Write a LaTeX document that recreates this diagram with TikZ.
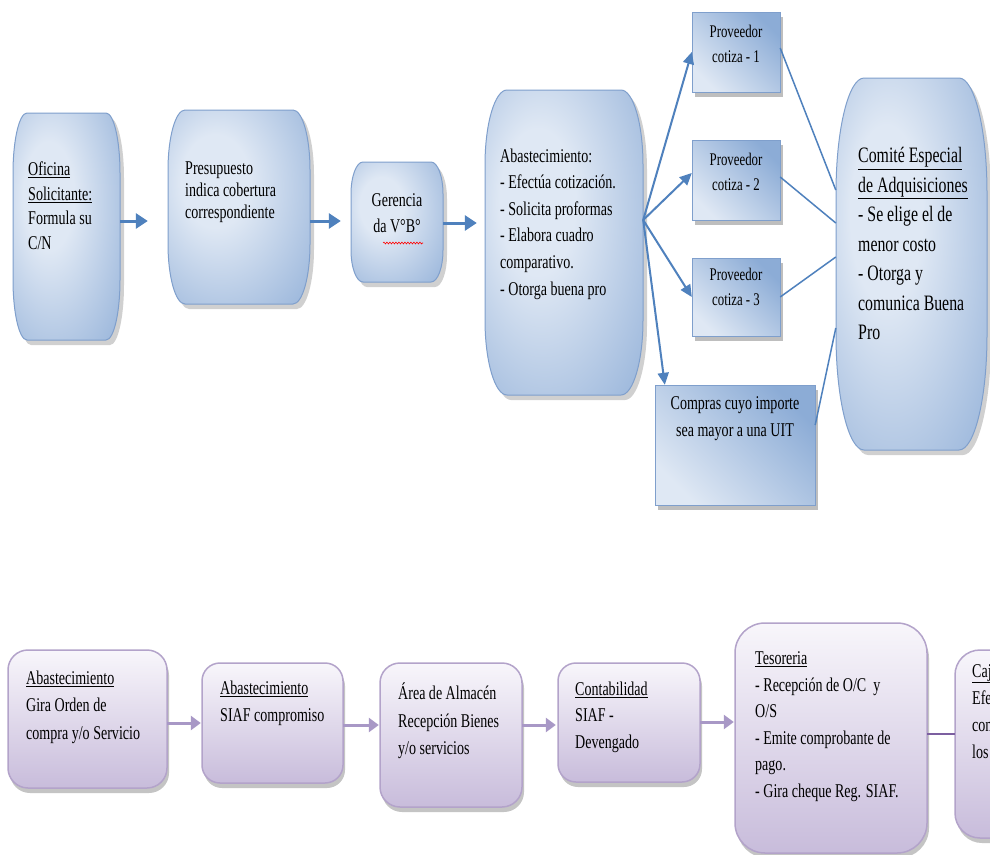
\documentclass[tikz,border=0pt]{standalone}
\usepackage{fontspec}
\setmainfont{Liberation Serif}[FakeStretch=0.72]
\usetikzlibrary{arrows.meta,calc,decorations.pathmorphing}

\definecolor{bluedark}{HTML}{8CACD6}
\definecolor{bluemid}{HTML}{B3C8E4}
\definecolor{bluelight}{HTML}{DFE8F4}
\definecolor{blueline}{HTML}{7F9FCC}
\definecolor{arrowblue}{HTML}{4F81BD}
\definecolor{purptop}{HTML}{F8F6FB}
\definecolor{purpbot}{HTML}{C8BCDB}
\definecolor{purpline}{HTML}{B3A3CA}
\definecolor{purparrow}{HTML}{A898C6}
\definecolor{purpdark}{HTML}{7C5FA0}
\definecolor{shadowgray}{HTML}{8A8A8A}

\pgfdeclareradialshading{bulgeshade}{\pgfpoint{-10bp}{8bp}}{%
  color(0bp)=(bluelight); color(12bp)=(bluelight); color(30bp)=(bluemid);
  color(46bp)=(bluedark); color(72bp)=(bluedark)}

% bulging box: name, x1, y1, x2, y2, rx, ry
\newcommand\bulgebox[7]{%
  \def\bpath{(#2+#6,#3) -- (#4-#6,#3) .. controls ({#4-0.448*#6},#3) and (#4,{#3+0.448*#7}) .. (#4,#3+#7)
    -- (#4,#5-#7) .. controls (#4,{#5-0.448*#7}) and ({#4-0.448*#6},#5) .. (#4-#6,#5)
    -- (#2+#6,#5) .. controls ({#2+0.448*#6},#5) and (#2,{#5-0.448*#7}) .. (#2,#5-#7)
    -- (#2,#3+#7) .. controls (#2,{#3+0.448*#7}) and ({#2+0.448*#6},#3) .. (#2+#6,#3) -- cycle}%
  \fill[shadowgray, opacity=.4, xshift=4pt, yshift=-5pt] \bpath;
  \shadedraw[shading=bulgeshade, draw=blueline, line width=1pt] \bpath;
  \node[inner sep=0pt, minimum width={(#4-#2)*1pt}, minimum height={(#5-#3)*1pt}] (#1) at ({(#2+#4)/2},{(#3+#5)/2}) {};
}
% provider rectangle: name, x1, y1, x2, y2
\newcommand\provbox[5]{%
  \fill[shadowgray, opacity=.55, xshift=3pt, yshift=-5pt] (#2,#3) rectangle (#4,#5);
  \shadedraw[top color=bluedark, bottom color=bluelight, shading angle=-45, draw=blueline, line width=1pt] (#2,#3) rectangle (#4,#5);
  \node[inner sep=0pt, minimum width={(#4-#2)*1pt}, minimum height={(#5-#3)*1pt}] (#1) at ({(#2+#4)/2},{(#3+#5)/2}) {};
}
% purple rounded box: name, x1, y1, x2, y2, radius
\newcommand\purpbox[6]{%
  \fill[shadowgray, opacity=.5, xshift=2pt, yshift=-5pt, rounded corners=#6pt] (#2,#3) rectangle (#4,#5);
  \shadedraw[top color=purptop, bottom color=purpbot, draw=purpline, line width=1.5pt, rounded corners=#6pt] (#2,#3) rectangle (#4,#5);
  \node[inner sep=0pt, minimum width={(#4-#2)*1pt}, minimum height={(#5-#3)*1pt}] (#1) at ({(#2+#4)/2},{(#3+#5)/2}) {};
}

\tikzset{
  txt/.style={inner sep=0pt, align=left, anchor=north west, execute at begin node=\strut},
  ctxt/.style={inner sep=0pt, align=center, anchor=north, execute at begin node=\strut},
  arrT/.style={draw=arrowblue, line width=3pt, -{Triangle[length=12pt,width=15pt]}},
  arrP/.style={draw=arrowblue, line width=2pt, -{Triangle[length=12pt,width=11pt]}},
  lineC/.style={draw=arrowblue, line width=1.5pt},
  arrB/.style={draw=purparrow, line width=3pt, -{Triangle[length=10pt,width=14pt]}},
}

\begin{document}
\begin{tikzpicture}[x=1pt, y=-1pt]
\useasboundingbox (0,0) rectangle (990,854);
\clip (0,0) rectangle (990,854);
\fill[white] (0,0) rectangle (990,854);

% ---------- top row ----------
\bulgebox{ofi}{13}{113}{120}{340}{14}{60}
\bulgebox{pre}{168}{110}{310}{304}{17}{60}
\bulgebox{ger}{351}{162}{443}{282}{12}{32}
\bulgebox{ab}{485}{90}{643}{395}{22}{75}
\bulgebox{com}{836}{78}{987}{450}{28}{115}
\provbox{p1}{692}{12}{780}{92}
\provbox{p2}{692}{140}{780}{220}
\provbox{p3}{692}{258}{780}{336}
\provbox{cmp}{655}{385}{815}{505}

\node[txt, font={\fontsize{19.5}{24.5}\selectfont}] (ofiT) at (28,161.85)
  {\underline{Oficina}\\\underline{Solicitante:}\\Formula su\\C/N};
\node[txt, font={\fontsize{19.5}{22}\selectfont}] (preT) at (185,161.6)
  {Presupuesto\\indica cobertura\\correspondiente};
\node[ctxt, font={\fontsize{19.5}{26}\selectfont}] (gerT) at (397,193.8)
  {Gerencia\\da V°B°};
\draw[red, line width=0.6pt, decorate, decoration={snake, amplitude=0.9pt, segment length=3pt}] (383,243) -- (423,243);
\node[txt, font={\fontsize{19.5}{26.6}\selectfont}] (abT) at (500,148.4)
  {Abastecimiento:\\- Efectúa cotización.\\- Solicita proformas\\- Elabora cuadro\\comparativo.\\- Otorga buena pro};
\node[ctxt, font={\fontsize{17.8}{25}\selectfont}] (p1T) at (736,24.5) {Proveedor\\cotiza - 1};
\node[ctxt, font={\fontsize{17.8}{25}\selectfont}] (p2T) at (736,152.5) {Proveedor\\cotiza - 2};
\node[ctxt, font={\fontsize{17.8}{25}\selectfont}] (p3T) at (736,267.5) {Proveedor\\cotiza - 3};
\node[ctxt, font={\fontsize{19.5}{27}\selectfont}] (cmpT) at (735,396.1)
  {Compras cuyo importe\\sea mayor a una UIT};
\node[txt, font={\fontsize{22}{29.5}\selectfont}] (comT) at (858,147.35)
  {\underline{Comité Especial}\\\underline{de Adquisiciones}\\- Se elige el de\\menor costo\\- Otorga y\\comunica Buena\\Pro};

% top connectors
\draw[arrT, shorten >=20pt] (ofi.east |- 0,221) -- (pre.west |- 0,221);
\draw[arrT, shorten >=10pt] (pre.east |- 0,221) -- (ger.west |- 0,221);
\draw[arrT, shorten >=8pt] (ger.east |- 0,223) -- (ab.west |- 0,223);
\draw[arrP] (ab.east |- 0,220) -- (p1.west);
\draw[arrP] (ab.east |- 0,220) -- (p2.west |- 0,173);
\draw[arrP] (ab.east |- 0,220) -- (p3.west);
\draw[arrP] (ab.east |- 0,220) -- ($(cmp.north west)+(10,0)$);
\draw[lineC] (p1.east |- 0,48) -- (com.west |- 0,190);
\draw[lineC] (p2.east |- 0,177) -- (com.west |- 0,223);
\draw[lineC] (p3.east |- 0,297) -- (com.west |- 0,257);
\draw[lineC] (cmp.east |- 0,425) -- (com.west |- 0,328);

% ---------- bottom row ----------
\purpbox{ab1}{8}{650}{167}{788}{20}
\purpbox{ab2}{202}{663}{343}{783}{18}
\purpbox{alm}{380}{663}{522}{807}{20}
\purpbox{con}{558}{663}{700}{782}{18}
\purpbox{tes}{735}{623}{927}{853}{30}
\purpbox{caja}{955}{650}{1060}{838}{25}

\node[txt, font={\fontsize{19.5}{27.5}\selectfont}] (ab1T) at (26,670.75)
  {\underline{Abastecimiento}\\Gira Orden de\\compra y/o Servicio};
\node[txt, font={\fontsize{19.5}{27}\selectfont}] (ab2T) at (220,681.1)
  {\underline{Abastecimiento}\\SIAF compromiso};
\node[txt, font={\fontsize{19.5}{27.5}\selectfont}] (almT) at (398,682.75)
  {Área de Almacén\\Recepción Bienes\\y/o servicios};
\node[txt, font={\fontsize{19.5}{26.5}\selectfont}] (conT) at (575,681.45)
  {\underline{Contabilidad}\\SIAF -\\Devengado};
\node[txt, font={\fontsize{19.5}{26.6}\selectfont}] (tesT) at (755,651.4)
  {\underline{Tesoreria}\\- Recepción de O/C~ y\\O/S\\- Emite comprobante de\\pago.\\- Gira cheque Reg. SIAF.};
\node[txt, font={\fontsize{19.5}{27.3}\selectfont}] (cajaT) at (972,663.9)
  {\underline{Caja}\\Efectúa\\con\\los};

\draw[arrB, shorten >=1pt] (ab1.east |- 0,723) -- (ab2.west |- 0,723);
\draw[arrB, shorten >=1pt] (ab2.east |- 0,725) -- (alm.west |- 0,725);
\draw[arrB, shorten >=2pt] (alm.east |- 0,725) -- (con.west |- 0,725);
\draw[arrB, shorten >=1pt] (con.east |- 0,722) -- (tes.west |- 0,722);
\draw[draw=purpdark, line width=2pt] (tes.east |- 0,734) -- (caja.west |- 0,734);
\end{tikzpicture}
\end{document}
